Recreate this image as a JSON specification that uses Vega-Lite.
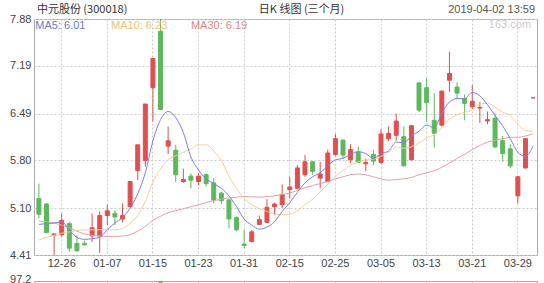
{
  "$schema": "https://vega.github.io/schema/vega-lite/v6.json",
  "autosize": {"type": "pad"},
  "padding": {"left": 9, "top": 3, "right": 7, "bottom": 0},
  "background": "white",
  "bounds": "flush",
  "spacing": 26,
  "resolve": {"scale": {"x": "shared"}},
  "config": {
    "font": "Liberation Sans",
    "view": {"stroke": "#aaaaaa", "strokeWidth": 1},
    "axis": {
      "labelFont": "Liberation Sans",
      "labelFontSize": 11,
      "labelColor": "#444444",
      "gridColor": "#cccccc",
      "gridDash": [2, 2],
      "gridWidth": 1,
      "domain": false,
      "ticks": false,
      "title": null
    }
  },
  "datasets": {
    "k": [
      {"date": "2018-12-21", "open": 5.24, "high": 5.46, "low": 4.95, "close": 5.01, "ma5": 4.86, "ma10": 4.63, "ma30": 4.91},
      {"date": "2018-12-24", "open": 5.16, "high": 5.17, "low": 4.73, "close": 4.74, "ma5": 4.87, "ma10": 4.67, "ma30": 4.90},
      {"date": "2018-12-25", "open": 4.70, "high": 4.72, "low": 4.41, "close": 4.72, "ma5": 4.88, "ma10": 4.70, "ma30": 4.88},
      {"date": "2018-12-26", "open": 4.71, "high": 5.02, "low": 4.68, "close": 4.92, "ma5": 4.90, "ma10": 4.73, "ma30": 4.85},
      {"date": "2018-12-27", "open": 4.87, "high": 4.90, "low": 4.46, "close": 4.51, "ma5": 4.78, "ma10": 4.75, "ma30": 4.81},
      {"date": "2018-12-28", "open": 4.58, "high": 4.70, "low": 4.46, "close": 4.47, "ma5": 4.67, "ma10": 4.77, "ma30": 4.76},
      {"date": "2019-01-02", "open": 4.58, "high": 4.62, "low": 4.55, "close": 4.56, "ma5": 4.64, "ma10": 4.78, "ma30": 4.72},
      {"date": "2019-01-03", "open": 4.69, "high": 5.02, "low": 4.60, "close": 4.81, "ma5": 4.65, "ma10": 4.78, "ma30": 4.70},
      {"date": "2019-01-04", "open": 4.69, "high": 5.05, "low": 4.44, "close": 4.99, "ma5": 4.67, "ma10": 4.78, "ma30": 4.69},
      {"date": "2019-01-07", "open": 4.99, "high": 5.15, "low": 4.85, "close": 5.06, "ma5": 4.78, "ma10": 4.78, "ma30": 4.68},
      {"date": "2019-01-08", "open": 5.02, "high": 5.07, "low": 4.85, "close": 4.97, "ma5": 4.88, "ma10": 4.78, "ma30": 4.68},
      {"date": "2019-01-09", "open": 4.94, "high": 5.17, "low": 4.89, "close": 4.99, "ma5": 4.96, "ma10": 4.80, "ma30": 4.69},
      {"date": "2019-01-10", "open": 5.12, "high": 5.50, "low": 5.11, "close": 5.49, "ma5": 5.10, "ma10": 4.88, "ma30": 4.71},
      {"date": "2019-01-11", "open": 5.65, "high": 6.03, "low": 5.51, "close": 6.03, "ma5": 5.31, "ma10": 4.99, "ma30": 4.76},
      {"date": "2019-01-14", "open": 5.80, "high": 6.63, "low": 5.71, "close": 6.63, "ma5": 5.62, "ma10": 5.20, "ma30": 4.83},
      {"date": "2019-01-15", "open": 6.87, "high": 7.30, "low": 6.37, "close": 7.30, "ma5": 6.09, "ma10": 5.48, "ma30": 4.92},
      {"date": "2019-01-16", "open": 7.70, "high": 7.88, "low": 6.55, "close": 6.55, "ma5": 6.40, "ma10": 5.68, "ma30": 4.98, "volume": 97.2},
      {"date": "2019-01-17", "open": 6.01, "high": 6.30, "low": 5.89, "close": 6.09, "ma5": 6.52, "ma10": 5.81, "ma30": 5.03},
      {"date": "2019-01-18", "open": 5.95, "high": 6.03, "low": 5.48, "close": 5.59, "ma5": 6.43, "ma10": 5.87, "ma30": 5.06},
      {"date": "2019-01-21", "open": 5.49, "high": 5.68, "low": 5.47, "close": 5.52, "ma5": 6.21, "ma10": 5.92, "ma30": 5.09},
      {"date": "2019-01-22", "open": 5.57, "high": 5.61, "low": 5.39, "close": 5.51, "ma5": 5.85, "ma10": 5.97, "ma30": 5.12},
      {"date": "2019-01-23", "open": 5.49, "high": 5.61, "low": 5.44, "close": 5.57, "ma5": 5.66, "ma10": 6.03, "ma30": 5.15},
      {"date": "2019-01-24", "open": 5.59, "high": 5.61, "low": 5.42, "close": 5.46, "ma5": 5.53, "ma10": 6.03, "ma30": 5.18},
      {"date": "2019-01-25", "open": 5.47, "high": 5.54, "low": 5.17, "close": 5.22, "ma5": 5.46, "ma10": 5.94, "ma30": 5.21},
      {"date": "2019-01-28", "open": 5.32, "high": 5.34, "low": 5.16, "close": 5.21, "ma5": 5.39, "ma10": 5.80, "ma30": 5.23},
      {"date": "2019-01-29", "open": 5.22, "high": 5.23, "low": 4.80, "close": 4.94, "ma5": 5.28, "ma10": 5.57, "ma30": 5.25},
      {"date": "2019-01-30", "open": 4.96, "high": 4.98, "low": 4.76, "close": 4.78, "ma5": 5.12, "ma10": 5.39, "ma30": 5.26},
      {"date": "2019-01-31", "open": 4.57, "high": 4.78, "low": 4.51, "close": 4.55, "ma5": 4.94, "ma10": 5.24, "ma30": 5.27},
      {"date": "2019-02-01", "open": 4.61, "high": 4.78, "low": 4.59, "close": 4.75, "ma5": 4.85, "ma10": 5.15, "ma30": 5.265},
      {"date": "2019-02-11", "open": 4.86, "high": 4.99, "low": 4.85, "close": 4.93, "ma5": 4.79, "ma10": 5.09, "ma30": 5.26},
      {"date": "2019-02-12", "open": 4.89, "high": 5.23, "low": 4.88, "close": 5.11, "ma5": 4.82, "ma10": 5.05, "ma30": 5.27},
      {"date": "2019-02-13", "open": 5.12, "high": 5.18, "low": 5.00, "close": 5.16, "ma5": 4.90, "ma10": 5.01, "ma30": 5.28},
      {"date": "2019-02-14", "open": 5.15, "high": 5.45, "low": 5.10, "close": 5.30, "ma5": 5.05, "ma10": 5.00, "ma30": 5.30},
      {"date": "2019-02-15", "open": 5.37, "high": 5.56, "low": 5.24, "close": 5.41, "ma5": 5.18, "ma10": 5.01, "ma30": 5.32},
      {"date": "2019-02-18", "open": 5.39, "high": 5.73, "low": 5.38, "close": 5.69, "ma5": 5.33, "ma10": 5.06, "ma30": 5.36},
      {"date": "2019-02-19", "open": 5.59, "high": 5.88, "low": 5.56, "close": 5.78, "ma5": 5.47, "ma10": 5.15, "ma30": 5.40},
      {"date": "2019-02-20", "open": 5.78, "high": 5.79, "low": 5.59, "close": 5.64, "ma5": 5.56, "ma10": 5.23, "ma30": 5.43},
      {"date": "2019-02-21", "open": 5.54, "high": 5.78, "low": 5.39, "close": 5.60, "ma5": 5.62, "ma10": 5.34, "ma30": 5.46},
      {"date": "2019-02-22", "open": 5.49, "high": 5.96, "low": 5.48, "close": 5.91, "ma5": 5.72, "ma10": 5.45, "ma30": 5.49},
      {"date": "2019-02-25", "open": 5.89, "high": 6.19, "low": 5.87, "close": 6.12, "ma5": 5.81, "ma10": 5.57, "ma30": 5.53},
      {"date": "2019-02-26", "open": 6.10, "high": 6.10, "low": 5.83, "close": 5.88, "ma5": 5.83, "ma10": 5.65, "ma30": 5.56},
      {"date": "2019-02-27", "open": 5.81, "high": 6.04, "low": 5.76, "close": 5.96, "ma5": 5.89, "ma10": 5.73, "ma30": 5.59},
      {"date": "2019-02-28", "open": 5.92, "high": 6.00, "low": 5.76, "close": 5.77, "ma5": 5.93, "ma10": 5.78, "ma30": 5.60},
      {"date": "2019-03-01", "open": 5.75, "high": 5.83, "low": 5.64, "close": 5.77, "ma5": 5.90, "ma10": 5.81, "ma30": 5.59},
      {"date": "2019-03-04", "open": 5.89, "high": 5.95, "low": 5.73, "close": 5.79, "ma5": 5.83, "ma10": 5.82, "ma30": 5.56},
      {"date": "2019-03-05", "open": 5.77, "high": 6.26, "low": 5.75, "close": 6.19, "ma5": 5.90, "ma10": 5.86, "ma30": 5.53},
      {"date": "2019-03-06", "open": 6.12, "high": 6.30, "low": 6.08, "close": 6.20, "ma5": 5.94, "ma10": 5.92, "ma30": 5.51},
      {"date": "2019-03-07", "open": 6.17, "high": 6.49, "low": 6.09, "close": 6.38, "ma5": 6.07, "ma10": 6.00, "ma30": 5.52},
      {"date": "2019-03-08", "open": 6.15, "high": 6.30, "low": 5.72, "close": 5.72, "ma5": 6.06, "ma10": 5.98, "ma30": 5.53},
      {"date": "2019-03-11", "open": 5.81, "high": 6.32, "low": 5.80, "close": 6.31, "ma5": 6.16, "ma10": 6.00, "ma30": 5.55},
      {"date": "2019-03-12", "open": 6.94, "high": 6.95, "low": 6.51, "close": 6.54, "ma5": 6.23, "ma10": 6.06, "ma30": 5.59},
      {"date": "2019-03-13", "open": 6.87, "high": 7.01, "low": 6.37, "close": 6.65, "ma5": 6.32, "ma10": 6.13, "ma30": 5.62},
      {"date": "2019-03-14", "open": 6.39, "high": 6.79, "low": 5.99, "close": 6.20, "ma5": 6.28, "ma10": 6.18, "ma30": 5.65},
      {"date": "2019-03-15", "open": 6.32, "high": 6.82, "low": 6.30, "close": 6.82, "ma5": 6.50, "ma10": 6.28, "ma30": 5.70},
      {"date": "2019-03-18", "open": 6.98, "high": 7.40, "low": 6.81, "close": 7.08, "ma5": 6.66, "ma10": 6.41, "ma30": 5.76},
      {"date": "2019-03-19", "open": 6.88, "high": 6.95, "low": 6.70, "close": 6.79, "ma5": 6.71, "ma10": 6.47, "ma30": 5.83},
      {"date": "2019-03-20", "open": 6.71, "high": 6.77, "low": 6.39, "close": 6.64, "ma5": 6.71, "ma10": 6.51, "ma30": 5.89},
      {"date": "2019-03-21", "open": 6.59, "high": 6.91, "low": 6.56, "close": 6.67, "ma5": 6.80, "ma10": 6.54, "ma30": 5.96},
      {"date": "2019-03-22", "open": 6.57, "high": 6.66, "low": 6.35, "close": 6.58, "ma5": 6.75, "ma10": 6.63, "ma30": 6.02},
      {"date": "2019-03-25", "open": 6.38, "high": 6.52, "low": 6.33, "close": 6.40, "ma5": 6.62, "ma10": 6.64, "ma30": 6.07},
      {"date": "2019-03-26", "open": 6.42, "high": 6.49, "low": 5.98, "close": 6.00, "ma5": 6.46, "ma10": 6.58, "ma30": 6.10},
      {"date": "2019-03-27", "open": 6.09, "high": 6.16, "low": 5.78, "close": 5.90, "ma5": 6.31, "ma10": 6.51, "ma30": 6.12},
      {"date": "2019-03-28", "open": 5.97, "high": 6.04, "low": 5.69, "close": 5.72, "ma5": 6.12, "ma10": 6.46, "ma30": 6.14},
      {"date": "2019-03-29", "open": 5.28, "high": 5.57, "low": 5.17, "close": 5.56, "ma5": 5.92, "ma10": 6.33, "ma30": 6.14},
      {"date": "2019-04-01", "open": 5.69, "high": 6.12, "low": 5.68, "close": 6.12, "ma5": 5.86, "ma10": 6.24, "ma30": 6.16},
      {"date": "2019-04-02", "open": 6.72, "high": 6.72, "low": 6.72, "close": 6.72, "ma5": 6.01, "ma10": 6.23, "ma30": 6.19}
    ]
  },
  "vconcat": [
    {
      "width": 503,
      "height": 236,
      "data": {"name": "k"},
      "encoding": {
        "x": {
          "field": "date",
          "type": "ordinal",
          "scale": {"type": "band", "paddingInner": 0.475, "paddingOuter": 0.3175, "align": 0.6},
          "axis": {
            "values": ["2018-12-26", "2019-01-07", "2019-01-15", "2019-01-23", "2019-01-31", "2019-02-15", "2019-02-25", "2019-03-05", "2019-03-13", "2019-03-21", "2019-03-29"],
            "labelExpr": "slice(datum.value, 5)",
            "labelAngle": 0,
            "labelPadding": 2,
            "labelOverlap": false,
            "grid": true
          }
        }
      },
      "layer": [
        {
          "mark": {"type": "rule", "strokeWidth": 1},
          "encoding": {
            "y": {
              "field": "low",
              "type": "quantitative",
              "scale": {"domain": [4.41, 7.88], "nice": false, "zero": false},
              "axis": {
                "values": [4.41, 5.10, 5.80, 6.49, 7.19, 7.88],
                "format": ".2f",
                "labelPadding": 3,
                "labelFlush": false,
                "grid": true
              }
            },
            "y2": {"field": "high"},
            "color": {"condition": {"test": "datum.close >= datum.open", "value": "#e04f4f"}, "value": "#5cb85c"}
          }
        },
        {
          "mark": {"type": "bar", "strokeWidth": 1},
          "encoding": {
            "y": {"field": "open", "type": "quantitative"},
            "y2": {"field": "close"},
            "fill": {"condition": {"test": "datum.close >= datum.open", "value": "#e04f4f"}, "value": "#5cb85c"},
            "stroke": {"condition": {"test": "datum.close >= datum.open", "value": "#e04f4f"}, "value": "#5cb85c"}
          }
        },
        {
          "mark": {"type": "line", "interpolate": "monotone", "strokeWidth": 1, "color": "#e3a0a6"},
          "encoding": {"y": {"field": "ma30", "type": "quantitative"}}
        },
        {
          "mark": {"type": "line", "interpolate": "monotone", "strokeWidth": 1, "color": "#f6cf96"},
          "encoding": {"y": {"field": "ma10", "type": "quantitative"}}
        },
        {
          "mark": {"type": "line", "interpolate": "monotone", "strokeWidth": 1, "color": "#7f7fe0"},
          "encoding": {"y": {"field": "ma5", "type": "quantitative"}}
        },
        {
          "data": {"values": [{}]},
          "mark": {"type": "text", "text": "MA5: 6.01", "font": "Liberation Sans", "fontSize": 11, "color": "#6f79c4", "align": "left", "baseline": "middle", "dx": -3.6},
          "encoding": {"x": {"datum": "2018-12-21", "type": "ordinal"}, "y": {"datum": 7.77, "type": "quantitative"}}
        },
        {
          "data": {"values": [{}]},
          "mark": {"type": "text", "text": "MA10: 6.23", "font": "Liberation Sans", "fontSize": 11, "color": "#f0c27c", "align": "left", "baseline": "middle", "dx": 3.7},
          "encoding": {"x": {"datum": "2019-01-07", "type": "ordinal"}, "y": {"datum": 7.77, "type": "quantitative"}}
        },
        {
          "data": {"values": [{}]},
          "mark": {"type": "text", "text": "MA30: 6.19", "font": "Liberation Sans", "fontSize": 11, "color": "#d98585", "align": "left", "baseline": "middle", "dx": 0},
          "encoding": {"x": {"datum": "2019-01-22", "type": "ordinal"}, "y": {"datum": 7.77, "type": "quantitative"}}
        },
        {
          "data": {"values": [{}]},
          "mark": {"type": "text", "text": "163.com", "font": "Liberation Sans", "fontSize": 11, "color": "#cccccc", "align": "right", "baseline": "middle", "dx": -2},
          "encoding": {"x": {"datum": "2019-04-02", "type": "ordinal"}, "y": {"datum": 7.79, "type": "quantitative"}}
        },
        {
          "data": {"values": [{}]},
          "mark": {"type": "text", "text": "中元股份 (300018)", "font": "Noto Sans CJK SC", "fontSize": 11, "color": "#333333", "align": "left", "baseline": "middle", "dx": -2},
          "encoding": {"x": {"datum": "2018-12-21", "type": "ordinal"}, "y": {"datum": 8.01, "type": "quantitative"}}
        },
        {
          "data": {"values": [{}]},
          "mark": {"type": "text", "text": "日K 线图 (三个月)", "font": "Noto Sans CJK SC", "fontSize": 11, "color": "#333333", "align": "left", "baseline": "middle", "dx": -0.5},
          "encoding": {"x": {"datum": "2019-02-11", "type": "ordinal"}, "y": {"datum": 8.01, "type": "quantitative"}}
        },
        {
          "data": {"values": [{}]},
          "mark": {"type": "text", "text": "2019-04-02 13:59", "font": "Liberation Sans", "fontSize": 11, "color": "#555555", "align": "right", "baseline": "middle", "dx": 2},
          "encoding": {"x": {"datum": "2019-04-02", "type": "ordinal"}, "y": {"datum": 8.01, "type": "quantitative"}}
        }
      ]
    },
    {
      "width": 503,
      "height": 4,
      "data": {"name": "k"},
      "mark": {"type": "bar", "color": "#5cb85c"},
      "encoding": {
        "x": {
          "field": "date",
          "type": "ordinal",
          "axis": {
            "values": ["2018-12-26", "2019-01-07", "2019-01-15", "2019-01-23", "2019-01-31", "2019-02-15", "2019-02-25", "2019-03-05", "2019-03-13", "2019-03-21", "2019-03-29"],
            "labels": false,
            "grid": true
          }
        },
        "y": {
          "field": "volume",
          "type": "quantitative",
          "scale": {"domain": [0, 97.2], "nice": false},
          "axis": {"values": [97.2], "format": ".1f", "labelFlush": false, "labelPadding": 3, "labelOffset": -2, "grid": false}
        }
      }
    }
  ]
}
